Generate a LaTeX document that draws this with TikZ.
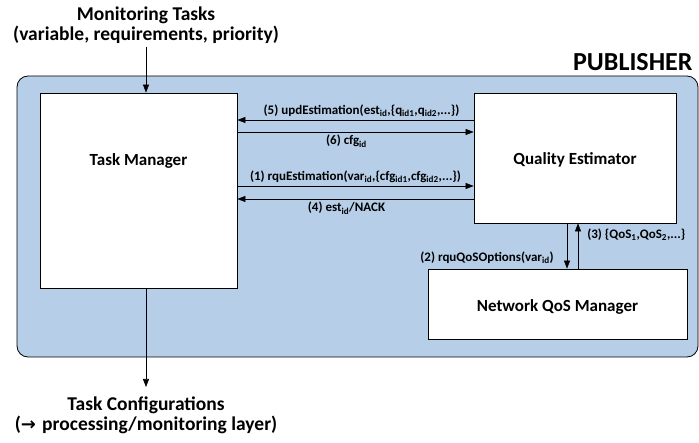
\documentclass[tikz,border=0pt]{standalone}
\usepackage{fontspec}
\setmainfont{Carlito}
\usetikzlibrary{arrows.meta,positioning}
\definecolor{pubblue}{RGB}{182,206,232}
\newcommand{\subtxt}[1]{\textsubscript{#1}}
\tikzset{
    compbox/.style={draw,thick,fill=white,inner sep=0pt},
    msg/.style={-{Triangle[length=8pt,width=6pt]},semithick},
    msglabel/.style={font=\bfseries\fontsize{13}{14}\selectfont,inner sep=1pt},
    boxtitle/.style={font=\bfseries\fontsize{17}{19}\selectfont},
    outtext/.style={font=\bfseries\fontsize{19.5}{20}\selectfont,align=center}
}

\begin{document}
\begin{tikzpicture}[x=1pt,y=-1pt]
    \useasboundingbox (0,0) rectangle (699,443);
    \draw[thick,fill=pubblue,rounded corners=11pt] (17,76) rectangle (698,357);
    \node[font=\bfseries\fontsize{26}{28}\selectfont,anchor=east] (pub) at (696,62) {PUBLISHER};

    \node[compbox,minimum width=197pt,minimum height=195pt,
        label={[boxtitle,yshift=30pt]center:Task Manager}] (tm) at (138.5,190.5) {};
    \node[compbox,minimum width=202pt,minimum height=130pt,
        label={[boxtitle,yshift=-2pt]center:Quality Estimator}] (qe) at (575,158) {};
    \node[compbox,minimum width=259pt,minimum height=70pt,
        label={[boxtitle,yshift=-3pt]center:Network QoS Manager}] (nqm) at (557.5,304) {};

    \node[outtext] (tasks) at (146,25) {Monitoring Tasks\\(variable, requirements, priority)};
    \node[outtext] (cfgs) at (146,415) {Task Configurations\\(\fontspec{DejaVu Sans}\bfseries\fontsize{18}{20}\selectfont→\ \fontspec{Carlito}\bfseries\fontsize{19.5}{20}\selectfont processing/monitoring layer)};
    \coordinate (cfgtop) at (146,387);

    \draw[msg] (tasks.south -| 146,0) -- (tm.north -| 146,0);
    \draw[msg] (tm.south -| 146,0) -- (cfgtop);

    % messages between task manager and quality estimator
    \draw[msg] (qe.west |- 0,120) -- node[msglabel,above=2pt,xshift=6pt]{(5) updEstimation(est\subtxt{id},\{q\subtxt{id1},q\subtxt{id2},...\})} (tm.east |- 0,120);
    \draw[msg] (tm.east |- 0,132) -- node[msglabel,below=2pt,xshift=-9pt]{(6) cfg\subtxt{id}} (qe.west |- 0,132);
    \draw[msg] (tm.east |- 0,186) -- node[msglabel,above=2pt]{(1) rquEstimation(var\subtxt{id},\{cfg\subtxt{id1},cfg\subtxt{id2},...\})} (qe.west |- 0,186);
    \draw[msg] (qe.west |- 0,199) -- node[msglabel,below=2pt,xshift=-9pt]{(4) est\subtxt{id}/NACK} (tm.east |- 0,199);

    % quality estimator and network qos manager
    \draw[msg] (qe.south -| 567,0) -- node[msglabel,left=12pt,yshift=-12pt]{(2) rquQoSOptions(var\subtxt{id})} (nqm.north -| 567,0);
    \draw[msg] (nqm.north -| 578,0) -- node[msglabel,right=8pt,yshift=11pt]{(3) \{QoS\subtxt{1},QoS\subtxt{2},...\}} (qe.south -| 578,0);
\end{tikzpicture}
\end{document}
